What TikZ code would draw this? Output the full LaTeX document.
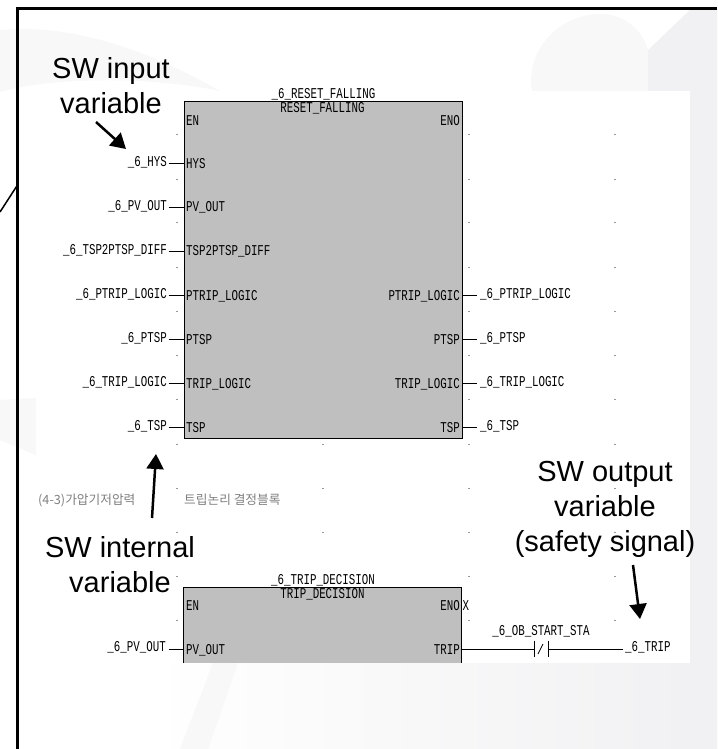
\documentclass[tikz,border=0pt]{standalone}
\usepackage{fontspec}
\setmainfont{Liberation Sans}
\newfontfamily\plc[FakeStretch=0.72]{Liberation Mono}
\newfontfamily\cjk{Noto Sans CJK KR}
\usetikzlibrary{arrows.meta}
\definecolor{blockgray}{RGB}{191,191,191}
\definecolor{wash}{RGB}{248,248,249}
\definecolor{washdark}{RGB}{241,241,243}
\tikzset{
  x=1pt,y=-1pt,
  blockbox/.style={draw=black,line width=1pt,fill=blockgray,inner sep=0pt},
  plcsmall/.style={font=\plc\fontsize{15}{15}\selectfont,inner sep=0pt,text=black},
  plcl/.style={plcsmall,anchor=east},
  plcr/.style={plcsmall,anchor=west},
  wire/.style={line width=1pt,draw=black},
  call/.style={font=\fontsize{29}{35}\selectfont,align=center,inner sep=0pt},
  callarrow/.style={line width=2.5pt,-{Triangle[length=15pt,width=17pt]}},
  gridtick/.style={fill=black!40,inner sep=0pt,minimum width=2pt,minimum height=1pt},
  faint/.style={font=\cjk\fontsize{12.7}{13}\selectfont,text=black!50,inner sep=0pt},
}
\begin{document}
\begin{tikzpicture}
\useasboundingbox (0,0) rectangle (717,749);
\fill[white] (0,0) rectangle (717,749);
% washed background shapes
\fill[wash] (0,30) .. controls (60,25) and (130,40) .. (220,91) .. controls (160,78) and (60,75) .. (0,92) -- cycle;
\fill[wash] (532,91) .. controls (525,50) and (560,14) .. (600,14) .. controls (625,14) and (642,30) .. (648,50) -- (648,91) -- cycle;
\fill[washdark] (648,91) -- (648,50) -- (690,10) -- (717,10) -- (717,749) -- (690,749) -- (690,91) -- cycle;
\shade[left color=white,right color=washdark] (150,663) rectangle (690,749);
\fill[wash] (0,400) -- (36,398) -- (36,455) -- (0,440) -- cycle;
\fill[wash] (213,663) -- (238,663) -- (208,749) -- (180,749) -- cycle;
% frame
\draw[line width=2.2pt] (717,8.5) -- (17.5,8.5) -- (17.5,749);
\coordinate (stubA) at (17.5,185);
\coordinate (stubB) at (0,212);
\draw[line width=1.5pt] (stubA) -- (stubB);
% grid ticks
\foreach \y [count=\i] in {134,179,222,267,311,355,399,444,488,532,576,620}{
  \node[gridtick] (tl\i) at (177,\y) {};
  \node[gridtick] (tm\i) at (469,\y) {};
  \node[gridtick] (tr\i) at (615,\y) {};
}
\foreach \y [count=\i] in {444,488,532}{\node[gridtick] (tc\i) at (323,\y) {};}
% blocks
\node[blockbox,anchor=north west,minimum width=278pt,minimum height=336.5pt] (blockA) at (183.5,101.5) {};
\fill[blockgray] (183.5,587.5) rectangle (461.5,663);
\draw[line width=1pt] (183.5,663) -- (183.5,587.5) -- (461.5,587.5) -- (461.5,663);
\coordinate (blockBl) at (183.5,649);
\coordinate (blockBr) at (461.5,649);
% block titles
\node[plcsmall] (tA1) at (323.5,94.5) {\_6\_RESET\_FALLING};
\node[plcsmall] (tA2) at (322.5,108) {RESET\_FALLING};
\node[plcsmall] (tB1) at (323,580.5) {\_6\_TRIP\_DECISION};
\node[plcsmall] (tB2) at (322.5,594.5) {TRIP\_DECISION};
\node[plcr] (enA) at (186,120.5) {EN};
\node[plcl] (enoA) at (460,120.5) {ENO};
\node[plcr] (enB) at (186,606) {EN};
\node[plcl] (enoB) at (460,606) {ENO};
\node[plcsmall,anchor=west] (xB) at (462.5,606) {X};
% left pins
\foreach \nm/\y/\vn/\pn in {a/163.5/\_6\_HYS/HYS,
  b/207.5/\_6\_PV\_OUT/PV\_OUT,
  c/251.5/\_6\_TSP2PTSP\_DIFF/TSP2PTSP\_DIFF,
  d/296/\_6\_PTRIP\_LOGIC/PTRIP\_LOGIC,
  e/340/\_6\_PTSP/PTSP,
  f/384/\_6\_TRIP\_LOGIC/TRIP\_LOGIC,
  g/428/\_6\_TSP/TSP}{
  \node[plcr] (p\nm) at (186,\y) {\pn};
  \node[plcl] (v\nm) at (167,\y-1.5) {\vn};
  \coordinate (s\nm) at (168.5,\y-0.5);
  \draw[wire] (s\nm) -- (s\nm -| blockA.west);
}
% right pins
\foreach \nm/\y/\vn/\pn in {d/296/\_6\_PTRIP\_LOGIC/PTRIP\_LOGIC,
  e/340/\_6\_PTSP/PTSP,
  f/384/\_6\_TRIP\_LOGIC/TRIP\_LOGIC,
  g/428/\_6\_TSP/TSP}{
  \node[plcl] (q\nm) at (460,\y) {\pn};
  \node[plcr] (w\nm) at (480,\y-2) {\vn};
  \coordinate (r\nm) at (477,\y-0.5);
  \draw[wire] (r\nm -| blockA.east) -- (r\nm);
}
% second block
\node[plcl] (vpvB) at (166,647.5) {\_6\_PV\_OUT};
\node[plcr] (ppvB) at (186,650) {PV\_OUT};
\coordinate (sB) at (168.5,649);
\draw[wire] (sB) -- (blockBl);
\node[plcl] (qtrip) at (460,650) {TRIP};
\node[plcsmall] (contactlbl) at (541,631) {\_6\_OB\_START\_STA};
\coordinate (c1) at (534,649);
\coordinate (c2) at (548,649);
\coordinate (c1t) at (534,640.5);
\coordinate (c1b) at (534,657);
\coordinate (c2t) at (548,640.5);
\coordinate (c2b) at (548,657);
\node[plcr] (wtrip) at (625,647.5) {\_6\_TRIP};
\coordinate (wend) at (623,649);
\draw[wire] (blockBr) -- (c1);
\draw[wire] (c2) -- (wend);
\draw[wire] (c1t) -- (c1b);
\draw[wire] (c2t) -- (c2b);
\coordinate (sl1) at (538,654);
\coordinate (sl2) at (543,644);
\draw[wire,line width=0.7pt] (sl1) -- (sl2);
% Korean
\node[faint,anchor=west] (ko1) at (38,500) {(4-3)가압기저압력};
\node[faint,anchor=west] (ko2) at (184,500) {트립논리 결정블록};
% callouts
\node[call] (cin) at (111,86) {SW input\\variable};
\coordinate (cinS) at (96,122);
\coordinate (cinTip) at (126,149);
\draw[callarrow] (cinS) -- (cinTip);
\node[call] (cint) at (120,565) {SW internal\\variable};
\coordinate (cintS) at (152,518);
\coordinate (cintTip) at (156,454);
\draw[callarrow] (cintS) -- (cintTip);
\node[call] (cout) at (605,509) {SW output\\variable\\(safety signal)};
\coordinate (coutS) at (633,565);
\coordinate (coutTip) at (640,619);
\draw[callarrow] (coutS) -- (coutTip);
\end{tikzpicture}
\end{document}
